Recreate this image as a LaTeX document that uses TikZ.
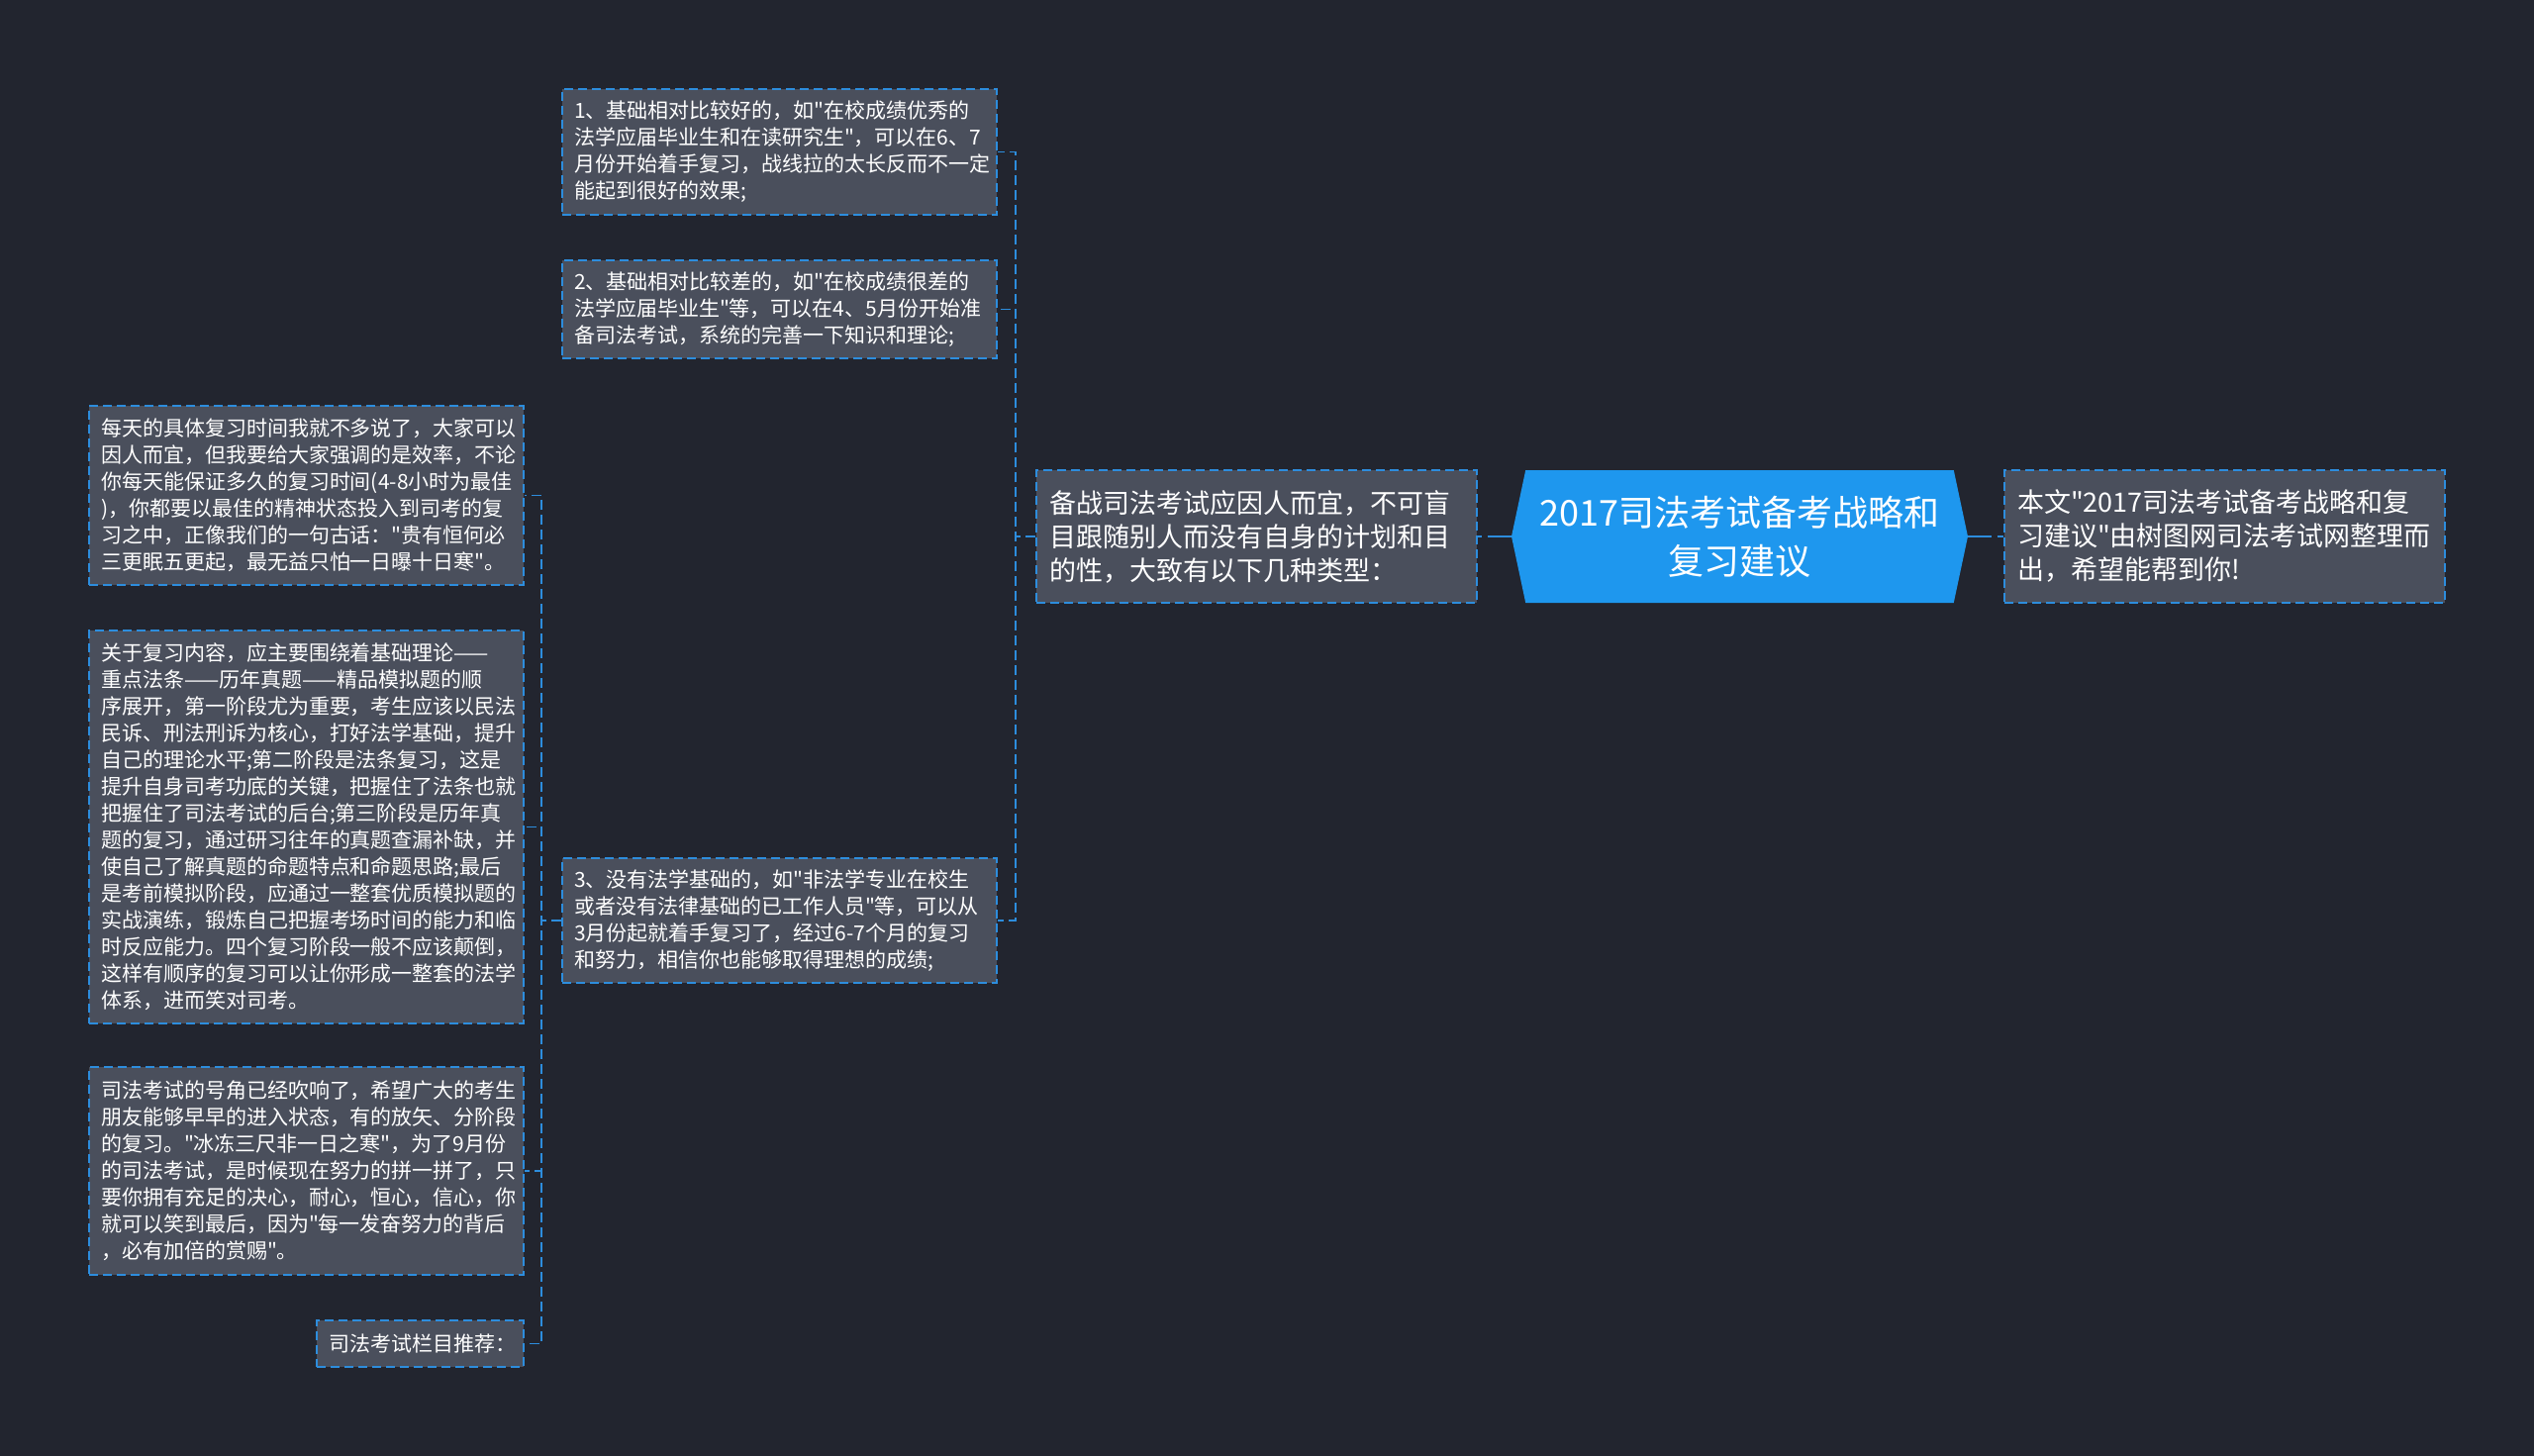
\documentclass[tikz,border=0pt]{standalone}
\usepackage{fontspec}
\newfontfamily\cjk{Noto Sans CJK SC}
\usetikzlibrary{shapes.symbols}

\definecolor{bgdark}{HTML}{22252F}
\definecolor{boxgrey}{HTML}{4A4F5C}
\definecolor{edgeblue}{HTML}{2D8DDD}
\definecolor{hubblue}{HTML}{1E97EE}

\tikzset{
  leaf/.style={draw=edgeblue, fill=boxgrey, line width=1.6pt, dash pattern=on 9pt off 5pt,
    text=white, align=left, inner xsep=12pt, inner ysep=0pt, font=\cjk\fontsize{21}{27}\selectfont},
  branch/.style={leaf, inner xsep=13pt, font=\cjk\fontsize{27}{34}\selectfont},
  hub/.style={signal, signal to=east and west, signal pointer angle=156, fill=hubblue,
    text=white, align=center, inner sep=0pt, font=\cjk\fontsize{36}{49}\selectfont},
  link/.style={edgeblue, line width=1.6pt, dash pattern=on 10pt off 5pt},
  mainlink/.style={edgeblue, line width=2.5pt, dash pattern=on 24pt off 6pt}
}

\begin{document}
\exhyphenpenalty=10000
\begin{tikzpicture}[x=1pt,y=-1pt]
\fill[bgdark] (0,0) rectangle (2560,1471);
\useasboundingbox (0,0) rectangle (2560,1471);

% middle row
\node[hub, minimum width=461pt, minimum height=134pt] (hub) at (1757.5,542) {2017司法考试备考战略和\\复习建议};
\node[branch, text width=419pt, minimum height=134pt] (aim) at (1269.5,542) {备战司法考试应因人而宜，不可盲\\目跟随别人而没有自身的计划和目\\的性，大致有以下几种类型：};
\node[branch, text width=419pt, minimum height=134pt] (note) at (2247.5,542) {本文"2017司法考试备考战略和复\\习建议"由树图网司法考试网整理而\\出，希望能帮到你!};

% types
\node[leaf, text width=415pt, minimum height=127pt] (t1) at (787.5,153.5) {1、基础相对比较好的，如"在校成绩优秀的\\法学应届毕业生和在读研究生"，可以在6、7\\月份开始着手复习，战线拉的太长反而不一定\\能起到很好的效果;};
\node[leaf, text width=415pt, minimum height=99pt] (t2) at (787.5,312.5) {2、基础相对比较差的，如"在校成绩很差的\\法学应届毕业生"等，可以在4、5月份开始准\\备司法考试，系统的完善一下知识和理论;};
\node[leaf, text width=415pt, minimum height=126pt] (t3) at (787.5,930) {3、没有法学基础的，如"非法学专业在校生\\或者没有法律基础的已工作人员"等，可以从\\3月份起就着手复习了，经过6-7个月的复习\\和努力，相信你也能够取得理想的成绩;};

% advice under type 3
\node[leaf, text width=415pt, minimum height=181pt] (s1) at (309.5,500.5) {每天的具体复习时间我就不多说了，大家可以\\因人而宜，但我要给大家强调的是效率，不论\\你每天能保证多久的复习时间(4-8小时为最佳\\)，你都要以最佳的精神状态投入到司考的复\\习之中，正像我们的一句古话："贵有恒何必\\三更眠五更起，最无益只怕一日曝十日寒"。};
\node[leaf, text width=415pt, minimum height=397pt] (s2) at (309.5,835.5) {关于复习内容，应主要围绕着基础理论——\\重点法条——历年真题——精品模拟题的顺\\序展开，第一阶段尤为重要，考生应该以民法\\民诉、刑法刑诉为核心，打好法学基础，提升\\自己的理论水平;第二阶段是法条复习，这是\\提升自身司考功底的关键，把握住了法条也就\\把握住了司法考试的后台;第三阶段是历年真\\题的复习，通过研习往年的真题查漏补缺，并\\使自己了解真题的命题特点和命题思路;最后\\是考前模拟阶段，应通过一整套优质模拟题的\\实战演练，锻炼自己把握考场时间的能力和临\\时反应能力。四个复习阶段一般不应该颠倒，\\这样有顺序的复习可以让你形成一整套的法学\\体系，进而笑对司考。};
\node[leaf, text width=415pt, minimum height=210pt] (s3) at (309.5,1183) {司法考试的号角已经吹响了，希望广大的考生\\朋友能够早早的进入状态，有的放矢、分阶段\\的复习。"冰冻三尺非一日之寒"，为了9月份\\的司法考试，是时候现在努力的拼一拼了，只\\要你拥有充足的决心，耐心，恒心，信心，你\\就可以笑到最后，因为"每一发奋努力的背后\\，必有加倍的赏赐"。};
\node[leaf, text width=185pt, minimum height=47pt] (s4) at (424.5,1357.5) {司法考试栏目推荐：};

% connectors
\draw[mainlink] (hub.west) -- (aim.east);
\draw[mainlink] (hub.east) -- (note.west);
\foreach \k in {t1,t2,t3}
  \draw[link] (aim.west) -- ++(-20,0) |- (\k.east);
\foreach \k in {s1,s2,s3,s4}
  \draw[link] (t3.west) -- ++(-20,0) |- (\k.east);
\end{tikzpicture}
\end{document}
